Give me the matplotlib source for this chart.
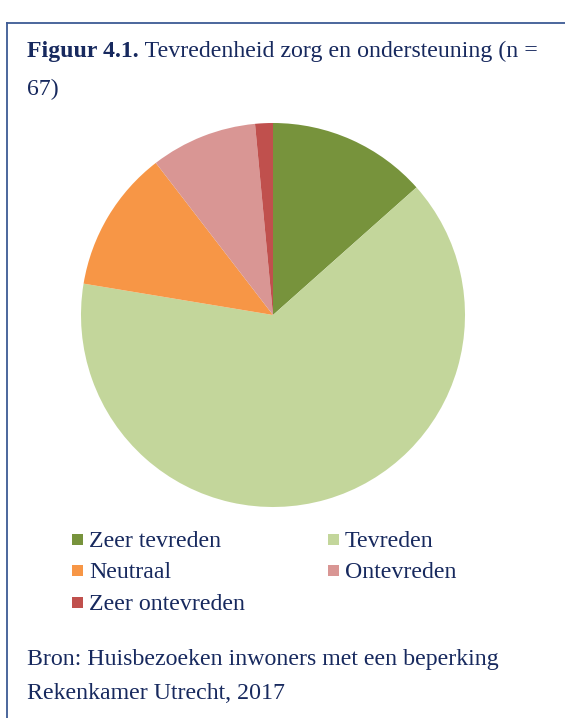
import matplotlib
matplotlib.use('Agg')
import matplotlib.pyplot as plt
from matplotlib.patches import Rectangle

'''
Pie of satisfaction with care and support (Figuur 4.1, n = 67).
'''

categories = ['Zeer tevreden', 'Tevreden', 'Neutraal', 'Ontevreden',
              'Zeer ontevreden']
counts = [9, 43, 8, 6, 1]
colours = ['#77933C', '#C3D69B', '#F79646', '#D99694', '#C0504D']

titleBold = 'Figuur 4.1.'
titleRest = ' Tevredenheid zorg en ondersteuning (n ='
titleLine2 = '67)'
sourceLines = ['Bron: Huisbezoeken inwoners met een beperking',
               'Rekenkamer Utrecht, 2017']

W, H = 565, 718
textColour = '#17295E'
borderColour = '#3D5A94'
plt.rcParams['font.family'] = ['Liberation Serif', 'DejaVu Serif']

fig = plt.figure(figsize=[W / 100, H / 100], dpi=100)


def fx(px):
    return px / W


def fy(py):
    return 1 - py / H


# frame around the figure box (right and bottom run off the page)
fig.add_artist(plt.Line2D([fx(7), fx(7)], [fy(23), fy(H + 5)],
                          color=borderColour, lw=1.3))
fig.add_artist(plt.Line2D([fx(7), fx(W + 5)], [fy(23), fy(23)],
                          color=borderColour, lw=1.3))

# title
fontSize = 17.2
renderer = fig.canvas.get_renderer()
t = fig.text(fx(27), fy(57), titleBold, fontsize=fontSize, fontweight='bold',
             color=textColour, ha='left', va='baseline')
bb = t.get_window_extent(renderer)
fig.text(bb.x1 / W, fy(57), titleRest, fontsize=fontSize,
         color=textColour, ha='left', va='baseline')
fig.text(fx(27), fy(95), titleLine2, fontsize=fontSize,
         color=textColour, ha='left', va='baseline')

# pie
cx, cy, r = 273, 315, 192
ax = fig.add_axes([fx(cx - r), fy(cy + r), 2 * r / W, 2 * r / H])
ax.pie(counts, colors=colours, startangle=90, counterclock=False,
       radius=1, wedgeprops=dict(linewidth=0))
ax.set_xlim(-1, 1)
ax.set_ylim(-1, 1)
ax.set_aspect('auto')
ax.axis('off')

# legend, two per row
legX = [72, 328]
legY0, legDy = 539, 31.5
sq = 11
for i, (lab, col) in enumerate(zip(categories, colours)):
    x = legX[i % 2]
    y = legY0 + (i // 2) * legDy
    fig.add_artist(Rectangle((fx(x), fy(y + sq / 2)), sq / W, sq / H,
                             transform=fig.transFigure, color=col, lw=0))
    fig.text(fx(x + sq + 6), fy(y + 8), lab, fontsize=fontSize,
             color=textColour, ha='left', va='baseline')

# source
for j, line in enumerate(sourceLines):
    fig.text(fx(27), fy(665 + j * 34), line, fontsize=fontSize,
             color=textColour, ha='left', va='baseline')

fig.savefig('out.png', dpi=100)
